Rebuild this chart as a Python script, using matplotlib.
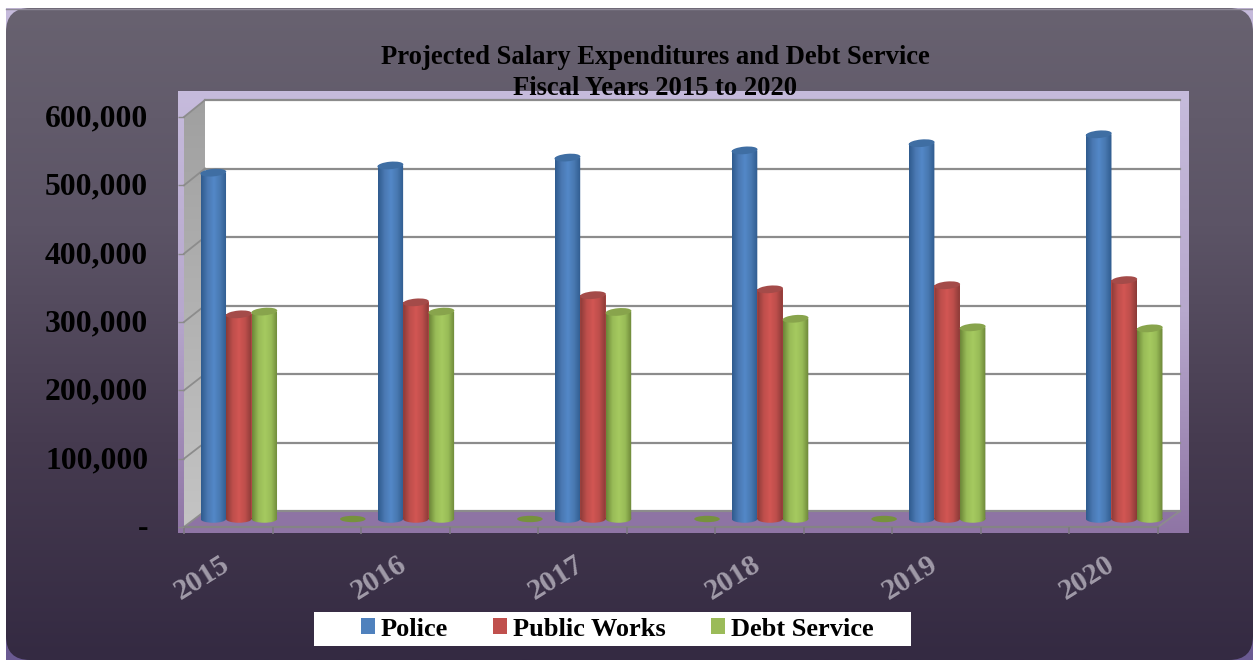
import numpy as np
import matplotlib
matplotlib.use("Agg")
import matplotlib.pyplot as plt
from matplotlib.patches import FancyBboxPatch, Rectangle, Polygon, Ellipse, Patch
from matplotlib.path import Path
from matplotlib.transforms import Affine2D, ScaledTranslation
from matplotlib.colors import LinearSegmentedColormap

title_lines = ["Projected Salary Expenditures and Debt Service", "Fiscal Years 2015 to 2020"]
categories = ["2015", "", "2016", "", "2017", "", "2018", "", "2019", "", "2020"]
police = [506000, np.nan, 516500, np.nan, 528000, np.nan, 538500, np.nan, 549000, np.nan, 562000]
public_works = [299000, np.nan, 316500, np.nan, 327000, np.nan, 335500, np.nan, 341500, np.nan, 349000]
debt_service = [303000, 0, 303000, 0, 302500, 0, 292500, 0, 280000, np.nan, 278500]
series_names = ["Police", "Public Works", "Debt Service"]
y_ticks = [0, 100000, 200000, 300000, 400000, 500000, 600000]
y_labels = ["-", "100,000", "200,000", "300,000", "400,000", "500,000", "600,000"]

W, H = 1253, 660
plt.rcParams["font.family"] = "Liberation Serif"
plt.rcParams["font.weight"] = "bold"

fig = plt.figure(figsize=(W / 100, H / 100), dpi=100, facecolor="white")


def axes_px(x0, x1, y_top, y_bottom, **kw):
    return fig.add_axes([x0 / W, 1 - y_bottom / H, (x1 - x0) / W, (y_bottom - y_top) / H], **kw)


# ---- background decoration, in pixel coordinates
bg = axes_px(0, W, 0, H, zorder=0)
bg.axis("off")
back_cmap = LinearSegmentedColormap.from_list("behind", ["#c6bbdc", "#6a5a92"])
bg.imshow(np.linspace(0, 1, 256)[:, None], extent=(6, W, H, 8), cmap=back_cmap, aspect="auto", zorder=0)
R = 24
card = FancyBboxPatch((6 + R, 8 + R), W - 6 - 2 * R, H - 8 - 2 * R, boxstyle=f"round,pad={R},rounding_size={R}",
                      fc="none", ec="none", zorder=2)
bg.add_patch(card)
card_cmap = LinearSegmentedColormap.from_list("card", ["#686270", "#5c5466", "#463b50", "#342a42"])
im = bg.imshow(np.linspace(0, 1, 256)[:, None], extent=(6, W, H, 8), cmap=card_cmap, aspect="auto", zorder=1)
im.set_clip_path(card)
panel_cmap = LinearSegmentedColormap.from_list("panel", ["#c6bbdc", "#b7a8cd", "#8f75a5"])
bg.imshow(np.linspace(0, 1, 256)[:, None], extent=(178, 1189, 533, 91), cmap=panel_cmap, aspect="auto", zorder=3)
bg.add_patch(Rectangle((205, 100), 975, 411, fc="white", ec="none", zorder=4))
wall = Polygon([(184, 117), (205, 100), (205, 511), (184, 527)], fc="none", ec="none", zorder=5)
bg.add_patch(wall)
wall_cmap = LinearSegmentedColormap.from_list("wall", ["#a0a0a0", "#c4c4c4"])
wim = bg.imshow(np.linspace(0, 1, 256)[:, None], extent=(184, 205, 527, 100), cmap=wall_cmap, aspect="auto", zorder=5)
wim.set_clip_path(wall)
bg.add_patch(Polygon([(205, 511), (1180, 511), (1158, 527), (184, 527)], fc="#8e74a4", ec="none", zorder=5))
for v in y_ticks:
    f = v / 600000
    bg.plot([184, 205], [527 - 410 * f, 511 - 411 * f], color="#8c8c8c", lw=1.3, zorder=6)
bg.plot([1158, 1180], [527, 511], color="#8c8c8c", lw=1.3, zorder=6)
bg.plot([6, W], [8.5, 8.5], color="#8f8a98", lw=1, zorder=6)
bg.plot([184, 1158], [527, 527], color="#848484", lw=1.6, zorder=7)
bg.add_patch(Rectangle((314, 612), 597, 34, fc="white", ec="none", zorder=6))
bg.set_xlim(0, W)
bg.set_ylim(H, 0)

# ---- back wall: gridlines
back = axes_px(205, 1180, 100, 511, zorder=1)
back.patch.set_alpha(0)
back.set_ylim(0, 600000)
back.set_xlim(0, 1)
back.set_yticks(y_ticks)
back.tick_params(left=False, bottom=False, labelleft=False, labelbottom=False)
back.grid(axis="y", color="#8c8c8c", lw=1.6)
for line in back.get_ygridlines():
    line.set_clip_on(False)
for s in back.spines.values():
    s.set_visible(False)

# ---- front plane: ticks and labels
front = axes_px(184, 1158, 117, 527, zorder=2)
front.patch.set_alpha(0)
front.set_xlim(-0.5, 10.5)
front.set_ylim(0, 600000)
for s in front.spines.values():
    s.set_visible(False)
front.set_yticks(y_ticks, y_labels)
front.tick_params(axis="y", length=4.3, width=1, color="#8a8a8a", pad=21.5, labelsize=22.8, labelcolor="black")
front.set_xticks(np.arange(0, 11), categories)
front.set_xticks(np.arange(-0.5, 11), minor=True)
front.tick_params(axis="x", which="major", length=0, pad=0, labelsize=21.5, labelcolor="#a09aa8")
front.tick_params(axis="x", which="minor", length=5, width=1.2, color="#7b7880")
for lab in front.get_xticklabels():
    lab.set_rotation(32)
    lab.set_rotation_mode("anchor")
    lab.set_ha("right")
    lab.set_va("center")
    lab.set_transform(lab.get_transform() + Affine2D().translate(-1, -35))
for lab in front.get_yticklabels():
    lab.set_transform(lab.get_transform() + Affine2D().translate(0, 1.5))

# ---- bars, in the plane between back wall and front
PX = 600000 / 410.7          # value units per pixel
ax = axes_px(194.5, 1168.5, 108.3, 529, zorder=3)
ax.patch.set_alpha(0)
ax.axis("off")
YMIN = -10 * PX
BW = 0.288
CAP_H = 7.5 * PX
styles = [
    (police, ["#2f5b8e", "#4a78b2", "#5388c8", "#4878b0", "#2f5b8e"], "#3f6ea3"),
    (public_works, ["#8a3a37", "#bd4e4b", "#d25653", "#bd4e4b", "#8a3a37"], "#a44b49"),
    (debt_service, ["#6c8638", "#98bb57", "#a6ca60", "#98bb57", "#6c8638"], "#88a44c"),
]
unit = Path.unit_rectangle()
circle = Path.unit_circle()
ax.set_xlim(-0.5, 10.5)
ax.set_ylim(YMIN, 600000)
for k, (vals, grad, cap) in enumerate(styles):
    cmap = LinearSegmentedColormap.from_list(f"cyl{k}", grad)
    xs = np.arange(len(vals)) + (k - 1) * BW
    ax.bar(xs, vals, width=BW, color=grad[2], zorder=3 + k, lw=0)
    for x, v in zip(xs, vals):
        if np.isnan(v):
            continue
        if v == 0:
            ax.add_patch(Ellipse((x, v), BW, CAP_H * 0.85, fc="#76923c", ec="none", zorder=3 + k))
            continue
        left = x - BW / 2
        rect_t = Affine2D().scale(BW, v).translate(left, 0)
        ell_t = Affine2D().scale(BW / 2, CAP_H / 2).translate(x, 0)
        clip = Path.make_compound_path(unit.transformed(rect_t), circle.transformed(ell_t))
        img = ax.imshow(np.linspace(0, 1, 64)[None, :], extent=(left, left + BW, -CAP_H, v), cmap=cmap,
                        aspect="auto", zorder=3 + k + 0.1)
        img.set_clip_path(clip, ax.transData)
        cap_tf = ScaledTranslation(x, v, ax.transData)
        ax.add_patch(Ellipse((0, 0), 26, 7.5, angle=5, fc=cap, ec="none", zorder=3 + k + 0.2,
                             transform=cap_tf, clip_on=False))
ax.set_xlim(-0.5, 10.5)
ax.set_ylim(YMIN, 600000)

# ---- legend and title
handles = [Patch(fc=c, ec="none") for c in ("#4f81bd", "#c0504d", "#9bbb59")]
fig.legend(handles, series_names, loc="center", bbox_to_anchor=(617 / W, 1 - 629 / H), ncol=3, frameon=False,
           fontsize=19, handlelength=0.53, handleheight=0.53, handletextpad=0.23, columnspacing=1.7,
           labelcolor="black")
fig.text(655 / W, 1 - 73 / H, "\n".join(title_lines), ha="center", va="center", fontsize=19.2,
         color="black", linespacing=1.3, zorder=10)

fig.savefig("out.png", dpi=100, facecolor="white")
